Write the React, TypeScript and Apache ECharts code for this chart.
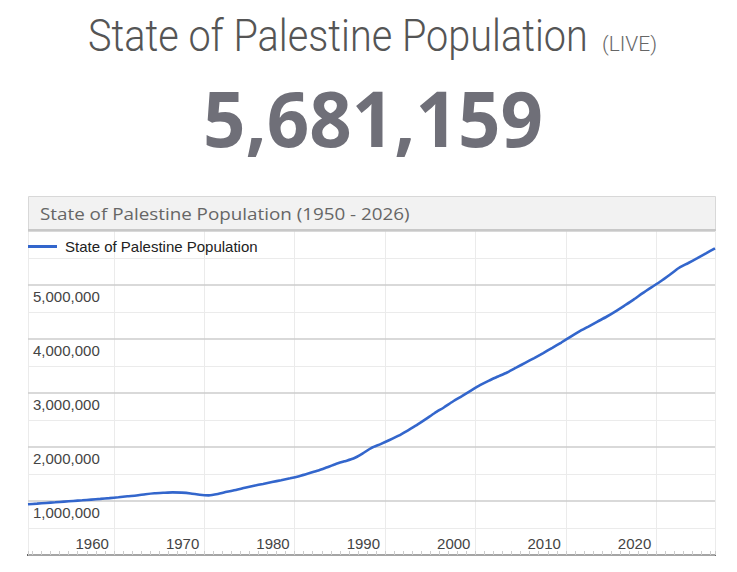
import React, { useEffect, useRef } from "react";
import * as echarts from "echarts";

const years = [
  1950, 1951, 1952, 1953, 1954, 1955, 1956, 1957, 1958, 1959,
  1960, 1961, 1962, 1963, 1964, 1965, 1966, 1967, 1968, 1969,
  1970, 1971, 1972, 1973, 1974, 1975, 1976, 1977, 1978, 1979,
  1980, 1981, 1982, 1983, 1984, 1985, 1986, 1987, 1988, 1989,
  1990, 1991, 1992, 1993, 1994, 1995, 1996, 1997, 1998, 1999,
  2000, 2001, 2002, 2003, 2004, 2005, 2006, 2007, 2008, 2009,
  2010, 2011, 2012, 2013, 2014, 2015, 2016, 2017, 2018, 2019,
  2020, 2021, 2022, 2023, 2024, 2025, 2026,
];

const population = [
  939000, 951000, 964000, 976000, 989000, 1001000, 1013000, 1026000, 1039000, 1053000,
  1068000, 1087000, 1103000, 1126000, 1144000, 1153000, 1160000, 1155000, 1140000, 1115000,
  1105000, 1130000, 1170000, 1203000, 1245000, 1282000, 1316000, 1351000, 1385000, 1420000,
  1460000, 1508000, 1559000, 1619000, 1681000, 1734000, 1786000, 1877000, 1985000, 2054000,
  2129000, 2210000, 2305000, 2404000, 2515000, 2630000, 2732000, 2843000, 2943000, 3045000,
  3144000, 3230000, 3305000, 3380000, 3469000, 3559000, 3647000, 3739000, 3836000, 3935000,
  4040000, 4140000, 4230000, 4322000, 4412000, 4512000, 4620000, 4730000, 4849000, 4960000,
  5069000, 5190000, 5315000, 5403000, 5492000, 5585000, 5680000,
];

const yTicks = [0, 1000000, 2000000, 3000000, 4000000, 5000000, 6000000];
const xRange = [1950.5, 2026.5];

const pageTitle = "State of Palestine Population";
const liveTag = "(LIVE)";
const liveCount = "5,681,159";
const chartTitle = "State of Palestine Population (1950 - 2026)";
const seriesName = "State of Palestine Population";

function measure(text: string, font: string): number {
  const c = document.createElement("canvas").getContext("2d");
  if (!c) return 1;
  c.font = font;
  return c.measureText(text).width || 1;
}

export default function App() {
  const ref = useRef<HTMLDivElement>(null);

  useEffect(() => {
    if (!ref.current) return;
    const chart = echarts.init(ref.current, null, { renderer: "svg" });

    const titleScale = 500 / measure(pageTitle, "300 45px Roboto");
    const liveScale = 55 / measure(liveTag, "300 20px Roboto");
    const numScale = 340 / measure(liveCount, "700 77px 'Open Sans'");
    const headScale = 370 / measure(chartTitle, "400 17px 'Open Sans'");

    const fmt = (v: number) =>
      v === yTicks[0] || v === yTicks[yTicks.length - 1]
        ? ""
        : v.toLocaleString("en-US");

    chart.setOption({
      animation: false,
      backgroundColor: "#ffffff",
      grid: { left: 28, right: 22, top: 231, bottom: 17, containLabel: false },
      legend: {
        show: true,
        left: 28,
        top: 239,
        padding: 0,
        icon: "rect",
        itemWidth: 29,
        itemHeight: 3,
        textStyle: {
          fontFamily: "Arial, 'Liberation Sans'",
          fontSize: 15,
          color: "#222222",
          padding: [0, 0, 0, 3],
        },
        data: [seriesName],
      },
      xAxis: {
        type: "value",
        min: xRange[0],
        max: xRange[1],
        splitNumber: 8,
        axisLine: { show: true, lineStyle: { color: "#333333", width: 2 } },
        axisTick: { show: true, inside: true, length: 4, lineStyle: { color: "#cccccc" } },
        minorTick: { show: true, splitNumber: 10, length: 4, lineStyle: { color: "#cccccc" } },
        splitLine: { show: true, lineStyle: { color: "#ebebeb", width: 1 } },
        axisLabel: {
          inside: true,
          margin: 4,
          align: "right",
          verticalAlign: "bottom",
          padding: [0, 5, 0, 0],
          fontFamily: "Arial, 'Liberation Sans'",
          fontSize: 15,
          color: "#444444",
          showMinLabel: false,
          showMaxLabel: false,
          formatter: (v: number) => String(v),
        },
      },
      yAxis: {
        type: "value",
        min: yTicks[0],
        max: yTicks[yTicks.length - 1],
        interval: yTicks[1] - yTicks[0],
        axisLine: { show: false },
        axisTick: { show: false },
        minorTick: { show: false, splitNumber: 2 },
        splitLine: { show: true, lineStyle: { color: "#cccccc", width: 1.5 } },
        minorSplitLine: { show: true, lineStyle: { color: "#ebebeb", width: 1 } },
        axisLabel: {
          inside: true,
          margin: 5,
          align: "left",
          verticalAlign: "top",
          lineHeight: 15,
          padding: [4, 0, 0, 0],
          fontFamily: "Arial, 'Liberation Sans'",
          fontSize: 15,
          color: "#444444",
          showMinLabel: false,
          showMaxLabel: false,
          formatter: fmt,
        },
        z: 1,
      },
      graphic: [
        {
          type: "text",
          x: 88,
          y: 36,
          scaleX: titleScale,
          style: {
            text: pageTitle,
            fontFamily: "Roboto",
            fontWeight: 300,
            fontSize: 45,
            fill: "#555555",
            align: "left",
            verticalAlign: "middle",
          },
        },
        {
          type: "text",
          x: 602,
          y: 44,
          scaleX: liveScale,
          style: {
            text: liveTag,
            fontFamily: "Roboto",
            fontWeight: 300,
            fontSize: 20,
            fill: "#666666",
            align: "left",
            verticalAlign: "middle",
          },
        },
        {
          type: "text",
          x: 203,
          y: 117,
          scaleX: numScale,
          style: {
            text: liveCount,
            fontFamily: "'Open Sans'",
            fontWeight: 700,
            fontSize: 77,
            fill: "#6f6f78",
            align: "left",
            verticalAlign: "middle",
          },
        },
        {
          type: "rect",
          shape: { x: 28.5, y: 196.5, width: 687, height: 34 },
          style: { fill: "#f2f2f2", stroke: "#d8d8d8", lineWidth: 1 },
          z: 10,
        },
        {
          type: "line",
          shape: { x1: 28, y1: 230, x2: 716, y2: 230 },
          style: { stroke: "#c8c8c8", lineWidth: 2 },
          z: 11,
        },
        {
          type: "text",
          x: 40,
          y: 213,
          scaleX: headScale,
          style: {
            text: chartTitle,
            fontFamily: "'Open Sans'",
            fontWeight: 400,
            fontSize: 17,
            fill: "#666666",
            align: "left",
            verticalAlign: "middle",
          },
          z: 12,
        },
      ],
      series: [
        {
          name: seriesName,
          type: "line",
          data: years.map((y, i) => [y + 0.5, population[i]]),
          symbol: "none",
          smooth: 0.2,
          lineStyle: { color: "#3366cc", width: 2.6 },
          itemStyle: { color: "#3366cc" },
          z: 5,
        },
      ],
    });

    return () => chart.dispose();
  }, []);

  return (
    <div
      ref={ref}
      style={{ position: "fixed", left: 0, top: 0, width: 737, height: 572 }}
    />
  );
}
